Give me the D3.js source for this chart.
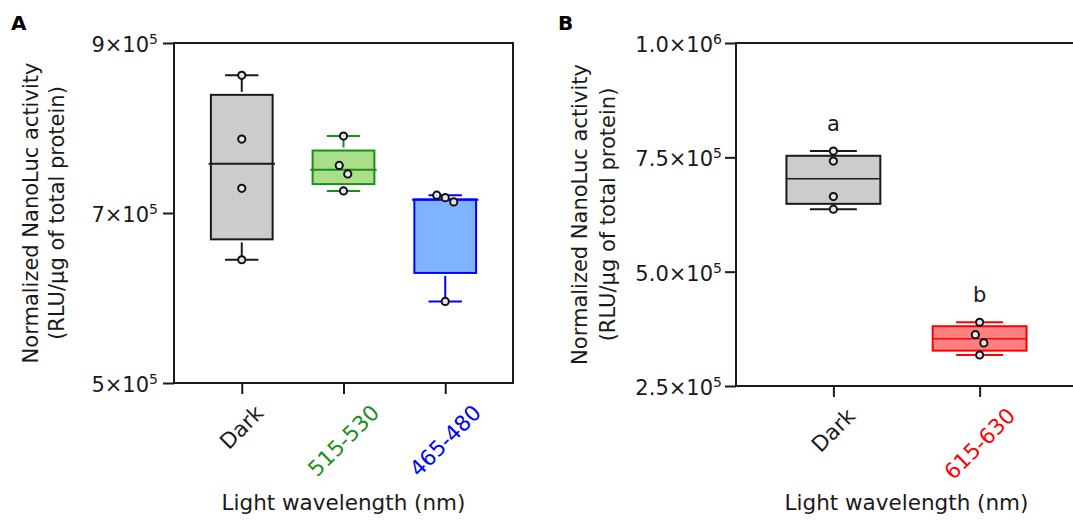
<!DOCTYPE html>
<html>
<head>
<meta charset="utf-8">
<script src="https://cdn.jsdelivr.net/npm/d3@7"></script>
<style>
  body { margin: 0; background: #fff; }
  svg { display: block; font-family: "DejaVu Sans", Verdana, sans-serif; }
</style>
</head>
<body>
<svg id="chart" width="1073" height="520"></svg>
<script>
// ── data, panel A ────────────────────────────────────────────────
const catsA   = ['Dark', '515-530', '465-480'];
const pointsA = [
    [862000, 787000, 729000, 645000],
    [790500, 756000, 746000, 726000],
    [721000, 718000, 713000, 596000]
];
const q1A    = [669000, 734000, 629500];   // lower box edge
const q3A    = [839000, 773500, 716000];   // upper box edge
const ticksA = [5e5, 7e5, 9e5];

// ── data, panel B ────────────────────────────────────────────────
const catsB   = ['Dark', '615-630'];
const pointsB = [
    [763600, 741800, 664300, 636700],
    [389400, 362300, 344100, 317800]
];
const q1B      = [648300, 327300];
const q3B      = [753400, 380700];
const ticksB   = [2.5e5, 5e5, 7.5e5, 1e6];
const lettersB = ['a', 'b'];

// colours per category
const colours = {
    'Dark':    { fill: '#cccccc', stroke: '#1a1a1a', text: '#1a1a1a' },
    '515-530': { fill: '#aade88', stroke: '#1a8f1a', text: '#1a8f1a' },
    '465-480': { fill: '#80b3ff', stroke: '#0000ff', text: '#0000ff' },
    '615-630': { fill: '#ff8080', stroke: '#ff0000', text: '#ff0000' }
};

const svg = d3.select('#chart');
const INK = '#1a1a1a';

function drawPanel(o) {
    const g = svg.append('g');
    const x = d3.scalePoint().domain(o.cats).range([o.x0, o.x1]).padding(0.666);
    const y = d3.scaleLinear().domain(o.domain).range([o.y1, o.y0]);
    const step = x.step();
    const bw = step * o.boxFrac, cw = bw * o.capFrac;

    // frame
    g.append('rect')
        .attr('x', o.x0).attr('y', o.y0)
        .attr('width', o.x1 - o.x0).attr('height', o.y1 - o.y0)
        .attr('fill', 'none').attr('stroke', INK).attr('stroke-width', 2);

    // y axis ticks + labels (a×10^n)
    const ya = g.append('g')
        .attr('transform', `translate(${o.x0},0)`)
        .call(d3.axisLeft(y).tickValues(o.ticks).tickSize(11).tickSizeOuter(0).tickFormat(''))
        .attr('font-family', null).attr('font-size', null);
    ya.select('.domain').remove();
    ya.selectAll('.tick line').attr('stroke', INK).attr('stroke-width', 2);
    ya.selectAll('.tick').append('text').each(function(d) {
        const e = Math.floor(Math.log10(d) + 1e-9);
        const m = d / Math.pow(10, e);
        const t = d3.select(this)
            .attr('x', o.tickLabelX).attr('y', 8.5)
            .attr('text-anchor', 'end').attr('fill', INK)
            .style('font-size', '21px');
        t.append('tspan').text(m.toFixed(o.decimals) + '×10');
        t.append('tspan').attr('dy', -8).style('font-size', '14px').text(e);
    });

    // x axis ticks
    const xa = g.append('g')
        .attr('transform', `translate(0,${o.y1})`)
        .call(d3.axisBottom(x).tickSize(11).tickSizeOuter(0).tickFormat(''))
        .attr('font-family', null).attr('font-size', null);
    xa.select('.domain').remove();
    xa.selectAll('.tick line').attr('stroke', INK).attr('stroke-width', 2);

    // rotated category labels: bbox centred under the tick, top aligned
    o.cats.forEach(c => {
        const lg = g.append('g');
        lg.append('text')
            .attr('transform', 'rotate(-45)')
            .attr('text-anchor', 'end')
            .attr('fill', colours[c].text)
            .style('font-size', '21.5px')
            .text(c);
        const bb = lg.node().getBBox();
        lg.attr('transform', `translate(${x(c) - (bb.x + bb.width / 2)},${o.y1 + 17 - bb.y})`);
    });

    // boxes
    o.cats.forEach((c, i) => {
        const vals = o.points[i];
        const col = colours[c];
        const cx = x(c);
        const lo = d3.min(vals), hi = d3.max(vals), med = d3.median(vals);
        const bg = g.append('g');

        // whiskers with a small gap to the box
        bg.append('line')
            .attr('x1', cx).attr('x2', cx)
            .attr('y1', y(hi)).attr('y2', y(o.q3[i]) - 3)
            .attr('stroke', col.stroke).attr('stroke-width', 2);
        bg.append('line')
            .attr('x1', cx).attr('x2', cx)
            .attr('y1', y(o.q1[i]) + 3).attr('y2', y(lo))
            .attr('stroke', col.stroke).attr('stroke-width', 2);
        [hi, lo].forEach(v => {
            bg.append('line')
                .attr('x1', cx - cw / 2).attr('x2', cx + cw / 2)
                .attr('y1', y(v)).attr('y2', y(v))
                .attr('stroke', col.stroke).attr('stroke-width', 2);
        });

        bg.append('rect')
            .attr('x', cx - bw / 2).attr('y', y(o.q3[i]))
            .attr('width', bw).attr('height', y(o.q1[i]) - y(o.q3[i]))
            .attr('fill', col.fill).attr('stroke', col.stroke).attr('stroke-width', 2);

        bg.append('line')
            .attr('x1', cx - bw / 2 - o.medExt).attr('x2', cx + bw / 2 + o.medExt)
            .attr('y1', y(med)).attr('y2', y(med))
            .attr('stroke', col.stroke).attr('stroke-width', o.medWidth);

        // points: spread sideways when they sit too close
        const py = vals.map(v => y(v)).sort((a, b) => a - b);
        const clusters = [];
        py.forEach((p, k) => {
            if (k > 0 && p - py[k - 1] < 9.5) clusters[clusters.length - 1].push(p);
            else clusters.push([p]);
        });
        clusters.forEach(cl => {
            cl.forEach((p, k) => {
                bg.append('circle')
                    .attr('cx', cx + (k - (cl.length - 1) / 2) * 8.5)
                    .attr('cy', p)
                    .attr('r', 3.6)
                    .attr('fill', '#e6e6e6')
                    .attr('stroke', '#111')
                    .attr('stroke-width', 2);
            });
        });

        if (o.letters) {
            g.append('text')
                .attr('x', cx).attr('y', y(hi) - 20)
                .attr('text-anchor', 'middle').attr('fill', INK)
                .style('font-size', '21px')
                .text(o.letters[i]);
        }
    });

    // axis titles
    const cy = (o.y0 + o.y1) / 2;
    [['Normalized NanoLuc activity', o.ylab[0]], ['(RLU/µg of total protein)', o.ylab[1]]].forEach(([t, dx]) => {
        g.append('text')
            .attr('transform', `translate(${o.x0 + dx},${cy}) rotate(-90)`)
            .attr('text-anchor', 'middle').attr('fill', INK)
            .style('font-size', '21px')
            .text(t);
    });
    g.append('text')
        .attr('x', (o.x0 + o.x1) / 2).attr('y', 510)
        .attr('text-anchor', 'middle').attr('fill', INK)
        .style('font-size', '21.5px')
        .text('Light wavelength (nm)');

    // panel letter
    g.append('text')
        .attr('x', o.letterX).attr('y', 30)
        .attr('fill', '#000')
        .style('font-weight', 'bold')
        .style('font-size', '20px')
        .text(o.panel);
}

drawPanel({
    panel: 'A', letterX: 11,
    x0: 174, x1: 513, y0: 43, y1: 383,
    domain: [5e5, 9e5], ticks: ticksA, decimals: 0,
    cats: catsA, points: pointsA, q1: q1A, q3: q3A,
    boxFrac: 0.607, capFrac: 0.54, medExt: 2.3, medWidth: 2,
    tickLabelX: -16, ylab: [-136.5, -110.5]
});

drawPanel({
    panel: 'B', letterX: 558,
    x0: 736, x1: 1077, y0: 43, y1: 386,
    domain: [2.5e5, 1e6], ticks: ticksB, decimals: 1,
    cats: catsB, points: pointsB, q1: q1B, q3: q3B, letters: lettersB,
    boxFrac: 0.642, capFrac: 0.5, medExt: 0.5, medWidth: 1.6,
    tickLabelX: -14, ylab: [-149, -121]
});
</script>
</body>
</html>
